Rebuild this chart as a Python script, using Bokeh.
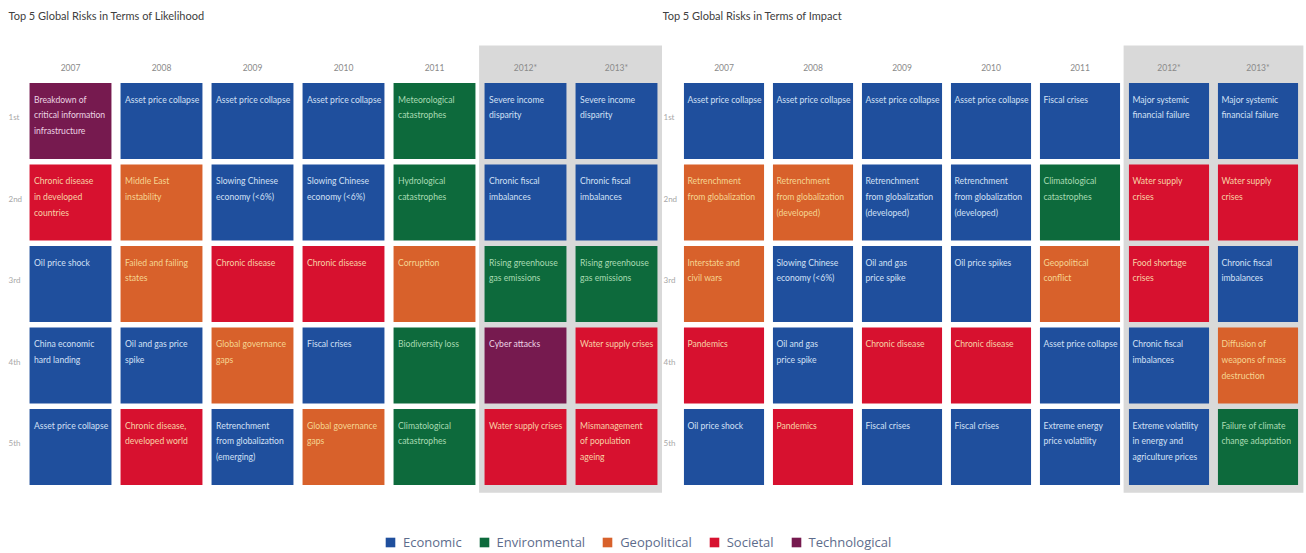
from bokeh.plotting import figure
from bokeh.models import ColumnDataSource, Range1d, Label, Legend, LegendItem
from bokeh.layouts import column, row
from bokeh.core.properties import value
from bokeh.embed import file_html
from bokeh.resources import INLINE

# ---------------- data ----------------
years = ["2007", "2008", "2009", "2010", "2011", "2012*", "2013*"]
ranks = ["1st", "2nd", "3rd", "4th", "5th"]
highlight_years = ["2012*", "2013*"]

categories = ["Economic", "Environmental", "Geopolitical", "Societal", "Technological"]
cat_colors = ["#1f4f9d", "#0d6a3c", "#d8612b", "#d7112f", "#761a4f"]
cat_text_colors = ["#d3e0f5", "#a9dbb3", "#f6d592", "#f8d2a6", "#ecd3e3"]

# labels per year (columns), ranks 1st..5th
likelihood_labels = [
    ["Breakdown of\ncritical information\ninfrastructure", "Chronic disease\nin developed\ncountries",
     "Oil price shock", "China economic\nhard landing", "Asset price collapse"],
    ["Asset price collapse", "Middle East\ninstability", "Failed and failing\nstates",
     "Oil and gas price\nspike", "Chronic disease,\ndeveloped world"],
    ["Asset price collapse", "Slowing Chinese\neconomy (<6%)", "Chronic disease",
     "Global governance\ngaps", "Retrenchment\nfrom globalization\n(emerging)"],
    ["Asset price collapse", "Slowing Chinese\neconomy (<6%)", "Chronic disease",
     "Fiscal crises", "Global governance\ngaps"],
    ["Meteorological\ncatastrophes", "Hydrological\ncatastrophes", "Corruption",
     "Biodiversity loss", "Climatological\ncatastrophes"],
    ["Severe income\ndisparity", "Chronic fiscal\nimbalances", "Rising greenhouse\ngas emissions",
     "Cyber attacks", "Water supply crises"],
    ["Severe income\ndisparity", "Chronic fiscal\nimbalances", "Rising greenhouse\ngas emissions",
     "Water supply crises", "Mismanagement\nof population\nageing"],
]
likelihood_cats = [
    ["Technological", "Societal", "Economic", "Economic", "Economic"],
    ["Economic", "Geopolitical", "Geopolitical", "Economic", "Societal"],
    ["Economic", "Economic", "Societal", "Geopolitical", "Economic"],
    ["Economic", "Economic", "Societal", "Economic", "Geopolitical"],
    ["Environmental", "Environmental", "Geopolitical", "Environmental", "Environmental"],
    ["Economic", "Economic", "Environmental", "Technological", "Societal"],
    ["Economic", "Economic", "Environmental", "Societal", "Societal"],
]

impact_labels = [
    ["Asset price collapse", "Retrenchment\nfrom globalization", "Interstate and\ncivil wars",
     "Pandemics", "Oil price shock"],
    ["Asset price collapse", "Retrenchment\nfrom globalization\n(developed)", "Slowing Chinese\neconomy (<6%)",
     "Oil and gas\nprice spike", "Pandemics"],
    ["Asset price collapse", "Retrenchment\nfrom globalization\n(developed)", "Oil and gas\nprice spike",
     "Chronic disease", "Fiscal crises"],
    ["Asset price collapse", "Retrenchment\nfrom globalization\n(developed)", "Oil price spikes",
     "Chronic disease", "Fiscal crises"],
    ["Fiscal crises", "Climatological\ncatastrophes", "Geopolitical\nconflict",
     "Asset price collapse", "Extreme energy\nprice volatility"],
    ["Major systemic\nfinancial failure", "Water supply\ncrises", "Food shortage\ncrises",
     "Chronic fiscal\nimbalances", "Extreme volatility\nin energy and\nagriculture prices"],
    ["Major systemic\nfinancial failure", "Water supply\ncrises", "Chronic fiscal\nimbalances",
     "Diffusion of\nweapons of mass\ndestruction", "Failure of climate\nchange adaptation"],
]
impact_cats = [
    ["Economic", "Geopolitical", "Geopolitical", "Societal", "Economic"],
    ["Economic", "Geopolitical", "Economic", "Economic", "Societal"],
    ["Economic", "Economic", "Economic", "Societal", "Economic"],
    ["Economic", "Economic", "Economic", "Societal", "Economic"],
    ["Economic", "Environmental", "Geopolitical", "Economic", "Economic"],
    ["Economic", "Societal", "Societal", "Economic", "Economic"],
    ["Economic", "Societal", "Economic", "Geopolitical", "Environmental"],
]

titles = ["Top 5 Global Risks in Terms of Likelihood", "Top 5 Global Risks in Terms of Impact"]

# ---------------- style ----------------
CELL_FONT = "Lato"
FIG_H = 505
ROW_PX = 81.5
ROW1_PX = 120.5


def make_panel(title, labels, cats, width, col_px, col0_px, rank_dx, title_dx, text_dx):
    xs, ys, txt, fill, tcol = [], [], [], [], []
    for ci, yr in enumerate(years):
        for ri, rk in enumerate(ranks):
            xs.append(ci)
            ys.append(ri + 1)
            txt.append(labels[ci][ri])
            k = categories.index(cats[ci][ri])
            fill.append(cat_colors[k])
            tcol.append(cat_text_colors[k])
    src = ColumnDataSource(dict(x=xs, y=ys, text=txt, fill=fill, tcol=tcol))

    x0 = -col0_px / col_px
    x1 = x0 + width / col_px
    y_top = 1 - ROW1_PX / ROW_PX
    y_bot = y_top + FIG_H / ROW_PX

    p = figure(width=width, height=FIG_H, x_range=Range1d(x0, x1), y_range=Range1d(y_bot, y_top),
               output_backend="svg", toolbar_location=None, min_border=0,
               x_axis_type=None, y_axis_type=None)
    p.outline_line_color = None
    p.grid.visible = False
    p.background_fill_color = "white"
    p.border_fill_color = "white"

    cw = 0.90
    ch = 0.93

    # highlighted (forecast) columns background
    hl = [years.index(y) for y in highlight_years]
    p.quad(left=[min(hl) - 0.51], right=[max(hl) + 0.51], top=[0.074], bottom=[5.56],
           fill_color="#d9d9d9", line_color=None)

    # column (year) labels
    ysrc = ColumnDataSource(dict(x=list(range(len(years))), y=[0.344] * len(years), text=years))
    p.text(x="x", y="y", text="text", source=ysrc, text_align="center", text_baseline="middle",
           text_font=value(CELL_FONT), text_font_size="8.5px", text_color="#8a8a8a")

    # row (rank) labels
    rsrc = ColumnDataSource(dict(x=[x0] * len(ranks), y=[i + 1 for i in range(len(ranks))], text=ranks))
    p.text(x="x", y="y", text="text", source=rsrc, text_align="left", text_baseline="middle",
           x_offset=rank_dx, y_offset=-4,
           text_font=value(CELL_FONT), text_font_size="8px", text_color="#a8a8a8")

    # cells
    p.rect(x="x", y="y", width=cw, height=ch, source=src, fill_color="fill", line_color=None)
    src.data["tx"] = [x - cw / 2 for x in xs]
    src.data["ty"] = [y - ch / 2 for y in ys]
    p.text(x="tx", y="ty", text="text", source=src, text_align="left", text_baseline="top",
           x_offset=text_dx, y_offset=11.5, text_line_height=1.58,
           text_font=value(CELL_FONT), text_font_size="8.6px", text_color="tcol")

    p.add_layout(Label(x=x0, y=y_top, text=title, text_align="left", text_baseline="top",
                       x_offset=title_dx, y_offset=-8, text_font="Lato",
                       text_font_size="11px", text_color="#404040"))
    return p


p1 = make_panel(titles[0], likelihood_labels, likelihood_cats, 662, 91.0, 70.0, 8, 8, 4.5)
p2 = make_panel(titles[1], impact_labels, impact_cats, 644, 89.0, 61.5, 1, 0, 3.5)

# legend strip
p3 = figure(width=1306, height=553 - FIG_H, output_backend="svg", toolbar_location=None, min_border=0,
            x_axis_type=None, y_axis_type=None, x_range=Range1d(0, 1), y_range=Range1d(0, 1))
p3.outline_line_color = None
p3.grid.visible = False
items = []
for cat, col in zip(categories, cat_colors):
    r = p3.rect(x=[0.5], y=[0.5], width=0, height=0, fill_color=col, line_color=None)
    items.append(LegendItem(label=cat, renderers=[r]))
leg = Legend(items=items, orientation="horizontal", location=(384, 2),
             glyph_width=12, glyph_height=12, label_standoff=7, spacing=16,
             label_text_font="Open Sans", label_text_font_size="13px", label_text_color="#5d6c8c",
             border_line_color=None, background_fill_alpha=0, padding=2, margin=0)
p3.add_layout(leg, "center")

layout = column(row(p1, p2), p3)
with open("out.html", "w") as f:
    f.write(file_html(layout, INLINE))
